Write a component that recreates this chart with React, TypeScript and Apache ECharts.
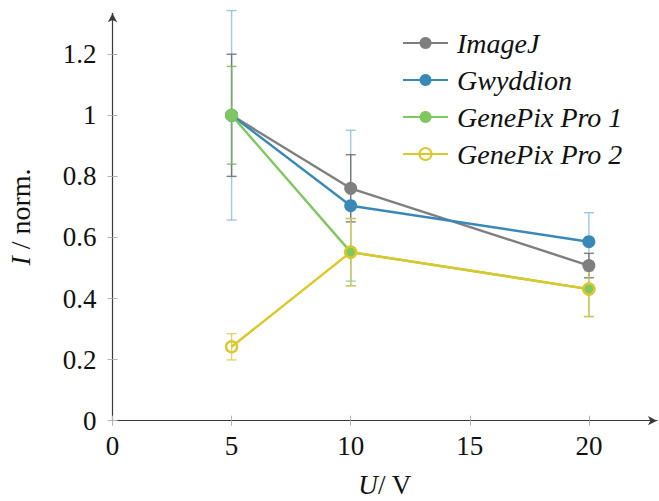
import React, { useEffect, useRef } from "react";
import * as echarts from "echarts";

// Measured intensities (normalised) at each voltage, with their errors
const voltages = [5, 10, 20];
const imageJ = [1.0, 0.761, 0.508];
const imageJErr = [0.2, 0.11, 0.04];
const gwyddion = [1.0, 0.704, 0.586];
const gwyddionErr = [0.343, 0.247, 0.095];
const genePix1 = [1.0, 0.552, 0.431];
const genePix1Err = [0.16, 0.11, 0.09];
const genePix2 = [0.242, 0.552, 0.431];
const genePix2Err = [0.043, 0.11, 0.09];

const seriesNames = ["ImageJ", "Gwyddion", "GenePix Pro 1", "GenePix Pro 2"];
const xTicks = [0, 5, 10, 15, 20];
const yTicks = [0, 0.2, 0.4, 0.6, 0.8, 1, 1.2];

const FONT = "Liberation Serif";
const COLORS = ["#7f7f7f", "#3a88b5", "#7fc75f", "#dcc829"];
const ERR_COLORS = ["#6a6a6a", "#8ebfdb", "#74b95c", "#d9cd55"];

const X_MAX = 22.86;
const Y_MAX = 1.334;

function errorSeries(values: number[], errs: number[], color: string) {
  return {
    type: "custom",
    z: 1,
    clip: false,
    silent: true,
    data: voltages.map((v, i) => [v, values[i], errs[i]]),
    renderItem: (_params: any, api: any) => {
      const x = api.value(0);
      const y = api.value(1);
      const e = api.value(2);
      const top = api.coord([x, y + e]);
      const bot = api.coord([x, y - e]);
      const hw = 5;
      const style = { stroke: color, lineWidth: 1.4, opacity: 0.85 };
      return {
        type: "group",
        children: [
          { type: "line", shape: { x1: top[0], y1: top[1], x2: bot[0], y2: bot[1] }, style },
          { type: "line", shape: { x1: top[0] - hw, y1: top[1], x2: top[0] + hw, y2: top[1] }, style },
          { type: "line", shape: { x1: bot[0] - hw, y1: bot[1], x2: bot[0] + hw, y2: bot[1] }, style },
        ],
      };
    },
  };
}

function lineSeries(name: string, values: number[], color: string, hollow: boolean) {
  return {
    type: "line",
    name,
    z: 3,
    data: voltages.map((v, i) => [v, values[i]]),
    symbol: "circle",
    symbolSize: hollow ? 11 : 13,
    lineStyle: { color, width: 2.4 },
    itemStyle: hollow
      ? { color: "rgba(0,0,0,0)", borderColor: color, borderWidth: 2.4 }
      : { color, borderWidth: 0 },
  };
}

export default function App() {
  const ref = useRef<HTMLDivElement>(null);

  useEffect(() => {
    const chart = echarts.init(ref.current!, null, { renderer: "svg" });
    const axisLineStyle = { color: "#3a3a3a", width: 1.2 };
    const tickStyle = { color: "#b4b4b4", width: 1 };
    const italic = { fontFamily: FONT, fontSize: 27, fontStyle: "italic", color: "#111" };

    const option: any = {
      animation: false,
      backgroundColor: "#ffffff",
      textStyle: { fontFamily: FONT },
      grid: {
        left: 112.5,
        right: 2,
        top: 13.3,
        bottom: 80.3,
        containLabel: false,
        outerBoundsMode: "none",
      },
      legend: {
        data: seriesNames,
        orient: "vertical",
        left: 397,
        top: 24,
        itemWidth: 45,
        itemHeight: 15,
        itemGap: 9,
        formatter: (name: string) => `{t|${name}}`,
        textStyle: {
          fontFamily: FONT,
          fontSize: 28,
          fontStyle: "italic",
          color: "#111",
          rich: {
            t: { fontFamily: FONT, fontSize: 28, fontStyle: "italic", color: "#111", padding: [0, 0, 0, 4] },
          },
        },
      },
      xAxis: [
        {
          type: "value",
          min: 0,
          max: X_MAX,
          splitLine: { show: false },
          axisLine: { show: true, lineStyle: axisLineStyle, symbol: ["none", "arrow"], symbolSize: [7, 9] },
          axisTick: { show: true, length: 5, lineStyle: tickStyle, customValues: xTicks },
          axisLabel: { customValues: xTicks, fontFamily: FONT, fontSize: 27, color: "#111", margin: 12 },
          name: "{i|U}/ V",
          nameLocation: "middle",
          nameGap: 51,
          nameTextStyle: {
            fontFamily: FONT,
            fontSize: 27,
            color: "#111",
            rich: { i: italic },
          },
        },
        {
          type: "value",
          min: 0,
          max: X_MAX,
          position: "bottom",
          splitLine: { show: false },
          axisLine: { show: false },
          axisTick: { show: true, inside: true, length: 5, lineStyle: tickStyle, customValues: xTicks },
          axisLabel: { show: false },
        },
      ],
      yAxis: [
        {
          type: "value",
          min: 0,
          max: Y_MAX,
          splitLine: { show: false },
          axisLine: { show: true, lineStyle: axisLineStyle, symbol: ["none", "arrow"], symbolSize: [7, 9] },
          axisTick: { show: true, length: 5, lineStyle: tickStyle, customValues: yTicks },
          axisLabel: {
            customValues: yTicks,
            fontFamily: FONT,
            fontSize: 27,
            color: "#111",
            margin: 16,
            formatter: (v: number) => String(Math.round(v * 10) / 10),
          },
          name: "{i|I} / norm.",
          nameLocation: "middle",
          nameRotate: 90,
          nameGap: 78,
          nameTextStyle: {
            fontFamily: FONT,
            fontSize: 28,
            color: "#111",
            rich: { i: { ...italic, fontSize: 28 } },
          },
        },
        {
          type: "value",
          min: 0,
          max: Y_MAX,
          position: "left",
          splitLine: { show: false },
          axisLine: { show: false },
          axisTick: { show: true, inside: true, length: 5, lineStyle: tickStyle, customValues: yTicks },
          axisLabel: { show: false },
        },
      ],
      series: [
        errorSeries(gwyddion, gwyddionErr, ERR_COLORS[1]),
        errorSeries(imageJ, imageJErr, ERR_COLORS[0]),
        errorSeries(genePix1, genePix1Err, ERR_COLORS[2]),
        errorSeries(genePix2, genePix2Err, ERR_COLORS[3]),
        lineSeries(seriesNames[0], imageJ, COLORS[0], false),
        lineSeries(seriesNames[1], gwyddion, COLORS[1], false),
        lineSeries(seriesNames[2], genePix1, COLORS[2], false),
        lineSeries(seriesNames[3], genePix2, COLORS[3], true),
      ],
    };

    chart.setOption(option);
    return () => chart.dispose();
  }, []);

  return (
    <div
      ref={ref}
      style={{ position: "fixed", left: 0, top: 0, width: 659, height: 501, background: "#fff" }}
    />
  );
}
